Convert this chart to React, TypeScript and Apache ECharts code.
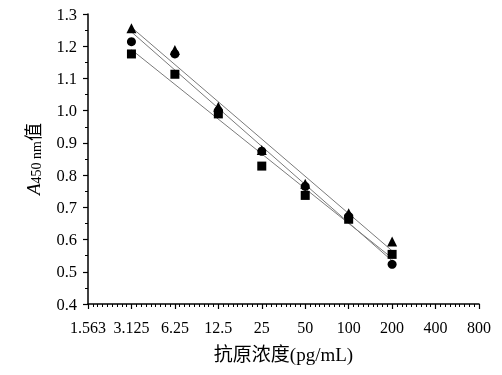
import React, { useEffect, useRef } from "react";
import * as echarts from "echarts";

const concentrations = [3.125, 6.25, 12.5, 25, 50, 100, 200];
const tickLabels = ["1.563", "3.125", "6.25", "12.5", "25", "50", "100", "200", "400", "800"];
const baseConc = 1.5625;
const triangleValues = [1.256, 1.188, 1.012, 0.878, 0.773, 0.682, 0.594];
const circleValues = [1.214, 1.176, 1.0, 0.874, 0.765, 0.672, 0.523];
const squareValues = [1.176, 1.113, 0.99, 0.828, 0.737, 0.663, 0.554];

const FONT = "'Liberation Serif', 'Noto Sans CJK SC', serif";

const toX = (c: number) => Math.log2(c / baseConc);

function fitLine(values: number[]) {
  const xs = concentrations.map(toX);
  const n = xs.length;
  const mx = xs.reduce((a, b) => a + b, 0) / n;
  const my = values.reduce((a, b) => a + b, 0) / n;
  let sxy = 0;
  let sxx = 0;
  for (let i = 0; i < n; i++) {
    sxy += (xs[i] - mx) * (values[i] - my);
    sxx += (xs[i] - mx) * (xs[i] - mx);
  }
  const k = sxy / sxx;
  const b = my - k * mx;
  const x0 = xs[0];
  const x1 = xs[n - 1];
  return [
    [x0, k * x0 + b],
    [x1, k * x1 + b],
  ];
}

export default function App() {
  const ref = useRef<HTMLDivElement>(null);
  useEffect(() => {
    if (!ref.current) return;
    const chart = echarts.init(ref.current, null, { renderer: "svg" });
    const pts = (vals: number[]) => concentrations.map((c, i) => [toX(c), vals[i]]);
    const lineSeries = (vals: number[]) => ({
      type: "line",
      data: fitLine(vals),
      symbol: "none",
      silent: true,
      lineStyle: { color: "#7a7a7a", width: 1 },
      z: 1,
    });
    const scatter = (vals: number[], symbol: string, size: number) => ({
      type: "scatter",
      data: pts(vals),
      symbol,
      symbolSize: size,
      itemStyle: { color: "#000", opacity: 1 },
      z: 3,
    });
    chart.setOption({
      animation: false,
      grid: { left: 88, right: 23, top: 14, bottom: 71 },
      xAxis: {
        type: "value",
        min: 0,
        max: 9,
        interval: 1,
        name: "抗原浓度(pg/mL)",
        nameLocation: "middle",
        nameGap: 41,
        nameTextStyle: { fontFamily: FONT, fontSize: 19, color: "#000" },
        axisLine: { lineStyle: { color: "#000", width: 1.5 } },
        axisTick: { inside: false, length: 5, lineStyle: { color: "#000", width: 1.2 } },
        minorTick: { show: true, splitNumber: 9, length: 3, lineStyle: { color: "#000" } },
        splitLine: { show: false },
        axisLabel: {
          margin: 15,
          fontFamily: FONT,
          fontSize: 16,
          color: "#000",
          formatter: (v: number) => tickLabels[Math.round(v)] ?? "",
        },
      },
      yAxis: {
        type: "value",
        min: 0.4,
        max: 1.3,
        interval: 0.1,
        name: "{a|A}{s|450 nm}{c|值}",
        nameLocation: "middle",
        nameGap: 45,
        nameTextStyle: {
          color: "#000",
          rich: {
            a: { fontFamily: FONT, fontStyle: "italic", fontSize: 19, color: "#000", verticalAlign: "bottom" },
            s: { fontFamily: FONT, fontSize: 14, color: "#000", verticalAlign: "bottom" },
            c: { fontFamily: FONT, fontSize: 18, color: "#000", verticalAlign: "bottom" },
          },
        },
        axisLine: { show: true, lineStyle: { color: "#000", width: 1.5 } },
        axisTick: { show: true, inside: false, length: 5, lineStyle: { color: "#000", width: 1.2 } },
        minorTick: { show: true, splitNumber: 2, length: 3, lineStyle: { color: "#000" } },
        splitLine: { show: false },
        axisLabel: {
          margin: 11,
          fontFamily: FONT,
          fontSize: 16.5,
          color: "#000",
          formatter: (v: number) => v.toFixed(1),
        },
      },
      series: [
        lineSeries(triangleValues),
        lineSeries(circleValues),
        lineSeries(squareValues),
        scatter(squareValues, "rect", 9),
        scatter(circleValues, "circle", 9),
        scatter(triangleValues, "triangle", 10),
      ],
    });
    return () => chart.dispose();
  }, []);
  return <div ref={ref} style={{ position: "fixed", left: 0, top: 0, width: 502, height: 375 }} />;
}
